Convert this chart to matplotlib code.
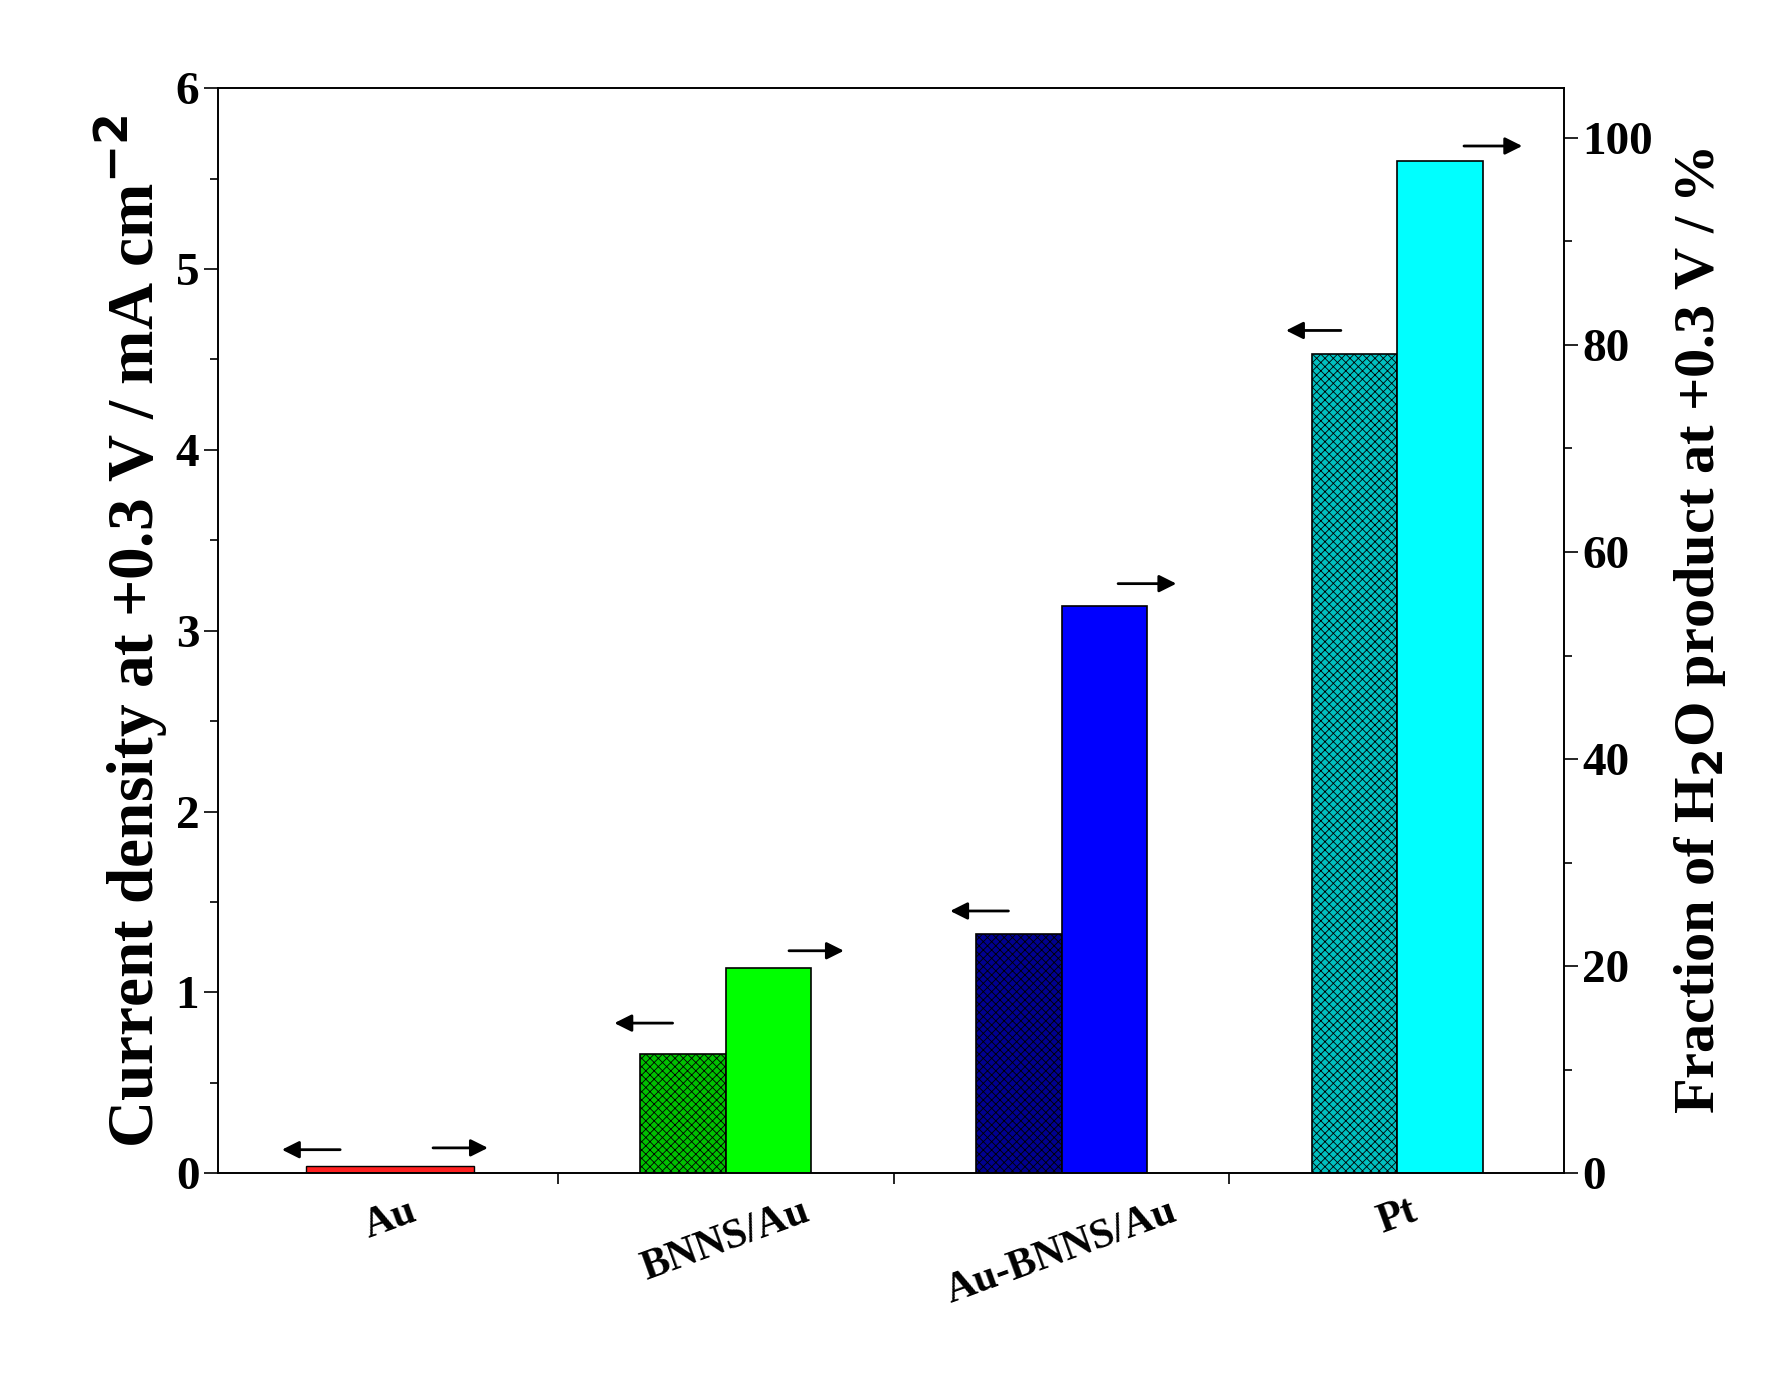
import matplotlib
matplotlib.use("Agg")
import matplotlib.pyplot as plt
from matplotlib.ticker import MultipleLocator, FixedLocator

categories = ["Au", "BNNS/Au", "Au-BNNS/Au", "Pt"]
current_density = [0.04, 0.66, 1.32, 4.53]
h2o_fraction = [0.8, 19.8, 54.8, 97.8]
left_colors = ["#ff2020", "#00c000", "#000090", "#00c0c0"]
right_colors = ["#ff2020", "#00ff00", "#0000ff", "#00ffff"]
# arrow anchors (x start, x end, y in left-axis units)
left_arrows = [(-0.14, -0.33, 0.13), (0.85, 0.66, 0.83), (1.85, 1.66, 1.45), (2.84, 2.66, 4.66)]
right_arrows = [(0.12, 0.30, 0.14), (1.18, 1.36, 1.23), (2.16, 2.35, 3.26), (3.19, 3.38, 5.68)]

plt.rcParams['font.family'] = ['Liberation Serif', 'DejaVu Serif']
plt.rcParams['font.weight'] = 'bold'
plt.rcParams['hatch.linewidth'] = 0.6

fig = plt.figure(figsize=(17.87, 13.77), dpi=100)
ax = fig.add_axes([0.122, 0.148, 0.753, 0.788])
ax2 = ax.twinx()
w = 0.255
for i in range(len(categories)):
    if i == 0:
        ax.bar(i, current_density[i], width=0.5, color=left_colors[i], edgecolor='black', lw=1)
        continue
    ax.bar(i - w / 2, current_density[i], width=w, color=left_colors[i], edgecolor='black',
           hatch='xxxx', lw=1.2)
    ax2.bar(i + w / 2, h2o_fraction[i], width=w, color=right_colors[i], edgecolor='black', lw=1.2)

for x0, x1, y in left_arrows + right_arrows:
    ax.annotate('', xy=(x1, y), xytext=(x0, y),
                arrowprops=dict(arrowstyle='-|>', color='black', lw=2, mutation_scale=26))

ax.set_xlim(-0.512, 3.495)
ax.set_ylim(0, 6)
ax2.set_ylim(0, 104.8)
ax.set_xticks(range(len(categories)))
ax.set_xticklabels(categories, rotation=20, fontsize=30, fontweight='bold')
ax.xaxis.set_minor_locator(FixedLocator([0.5, 1.5, 2.5]))
ax.tick_params(axis='x', which='major', length=0, pad=14)
ax.tick_params(axis='x', which='minor', length=8, width=1.2)
ax.yaxis.set_major_locator(MultipleLocator(1))
ax.yaxis.set_minor_locator(MultipleLocator(0.5))
ax2.yaxis.set_major_locator(MultipleLocator(20))
ax2.yaxis.set_minor_locator(MultipleLocator(10))
for a in (ax, ax2):
    a.tick_params(axis='y', which='major', labelsize=34, length=10, width=1.2)
    a.tick_params(axis='y', which='minor', length=6, width=1.2)
    for t in a.get_yticklabels():
        t.set_fontweight('bold')
    for s in a.spines.values():
        s.set_linewidth(1.2)
ax.set_ylabel('Current density at +0.3 V / mA cm$^{\\mathbf{-2}}$', fontsize=47, fontweight='bold')
ax2.set_ylabel('Fraction of H$_\\mathbf{2}$O product at +0.3 V / %', fontsize=42, fontweight='bold',
               labelpad=14)
fig.savefig('out.png', dpi=100)
